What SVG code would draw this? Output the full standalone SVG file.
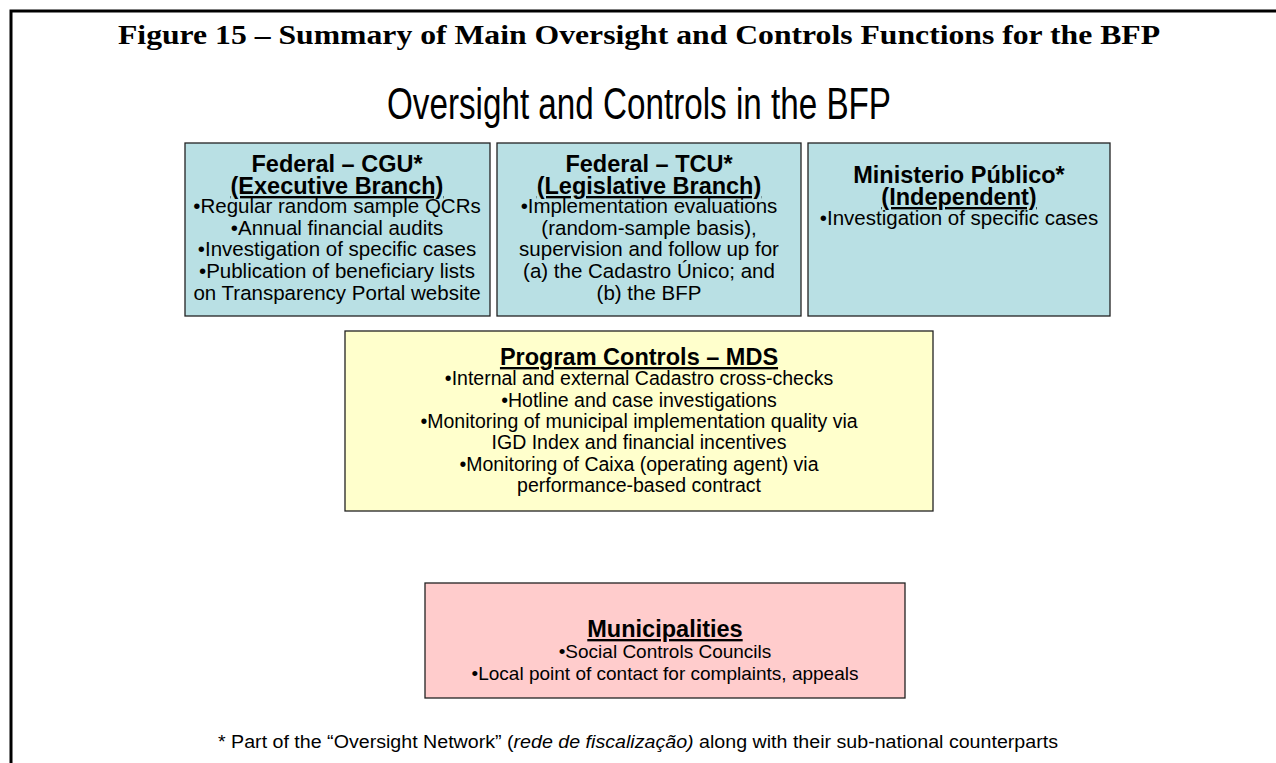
<svg xmlns="http://www.w3.org/2000/svg" width="1276" height="763" viewBox="0 0 1276 763">
<style>
.box{stroke:#222;stroke-width:1.3}
.blue{fill:#B9E0E4}
.yellow{fill:#FFFFCC}
.pink{fill:#FFCCCC}
text{font-family:"Liberation Sans",Arial,sans-serif;fill:#000;text-anchor:middle}
.h{font-size:23.5px;font-weight:bold}
.u{text-decoration:underline}
.b{font-size:20.5px}
.y{font-size:19.5px}
.p{font-size:19px}
</style>
<rect width="1276" height="763" fill="#fff"/>
<rect x="11" y="11" width="1275" height="770" fill="none" stroke="#000" stroke-width="3"/>
<text x="639" y="44" textLength="1042" lengthAdjust="spacingAndGlyphs" style="font-family:'Liberation Serif','Times New Roman',serif;font-size:28px;font-weight:bold">Figure 15 – Summary of Main Oversight and Controls Functions for the BFP</text>
<text x="639" y="119" textLength="504" lengthAdjust="spacingAndGlyphs" style="font-size:44px">Oversight and Controls in the BFP</text>
<g id="cgu">
<rect class="box blue" x="185" y="143" width="305" height="173"/>
<text class="h" x="337" y="172">Federal – CGU*</text>
<text class="h u" x="337" y="194">(Executive Branch)</text>
<text class="b" x="337" y="213">•Regular random sample QCRs</text>
<text class="b" x="337" y="235">•Annual financial audits</text>
<text class="b" x="337" y="256">•Investigation of specific cases</text>
<text class="b" x="337" y="278">•Publication of beneficiary lists</text>
<text class="b" x="337" y="300">on Transparency Portal website</text>
</g>
<g id="tcu">
<rect class="box blue" x="497" y="143" width="304" height="173"/>
<text class="h" x="649" y="172">Federal – TCU*</text>
<text class="h u" x="649" y="194">(Legislative Branch)</text>
<text class="b" x="649" y="213">•Implementation evaluations</text>
<text class="b" x="649" y="235">(random-sample basis),</text>
<text class="b" x="649" y="256">supervision and follow up for</text>
<text class="b" x="649" y="278">(a) the Cadastro Único; and</text>
<text class="b" x="649" y="300">(b) the BFP</text>
</g>
<g id="mp">
<rect class="box blue" x="808" y="143" width="302" height="173"/>
<text class="h" x="959" y="183">Ministerio Público*</text>
<text class="h u" x="959" y="205">(Independent)</text>
<text class="b" x="959" y="225">•Investigation of specific cases</text>
</g>
<g id="mds">
<rect class="box yellow" x="345" y="331" width="588" height="180"/>
<text class="h u" x="639" y="365">Program Controls – MDS</text>
<text class="y" x="639" y="385">•Internal and external Cadastro cross-checks</text>
<text class="y" x="639" y="407">•Hotline and case investigations</text>
<text class="y" x="639" y="428">•Monitoring of municipal implementation quality via</text>
<text class="y" x="639" y="449">IGD Index and financial incentives</text>
<text class="y" x="639" y="471">•Monitoring of Caixa (operating agent) via</text>
<text class="y" x="639" y="492">performance-based contract</text>
</g>
<g id="municipalities">
<rect class="box pink" x="425" y="583" width="480" height="115"/>
<text class="h u" x="665" y="637">Municipalities</text>
<text class="p" x="665" y="658">•Social Controls Councils</text>
<text class="p" x="665" y="680">•Local point of contact for complaints, appeals</text>
</g>
<g id="connectors"></g>
<text x="638" y="748" textLength="840" lengthAdjust="spacingAndGlyphs" style="font-size:17.5px">* Part of the “Oversight Network” (<tspan font-style="italic">rede de fiscalização)</tspan> along with their sub-national counterparts</text>
</svg>
